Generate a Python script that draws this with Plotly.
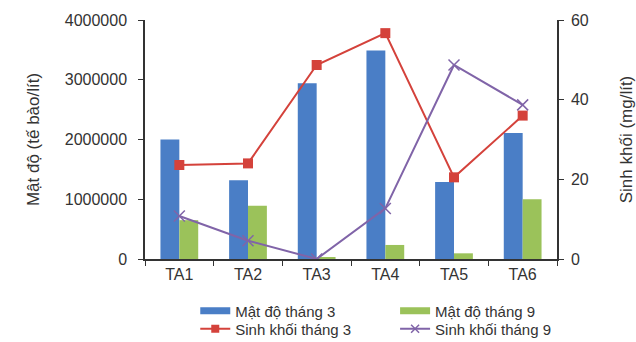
import plotly.graph_objects as go

categories = ["TA1", "TA2", "TA3", "TA4", "TA5", "TA6"]
mat_do_t3 = [2000000, 1320000, 2940000, 3490000, 1290000, 2110000]
mat_do_t9 = [650000, 890000, 30000, 235000, 95000, 1000000]
sinh_khoi_t3 = [23.6, 24.0, 48.7, 56.7, 20.5, 36.0]
sinh_khoi_t9 = [10.8, 4.6, 0.0, 12.7, 48.7, 38.7]

left_ticks = [0, 1000000, 2000000, 3000000, 4000000]
right_ticks = [0, 20, 40, 60]

BLUE = "#4a7ec6"
GREEN = "#9bc25a"
RED = "#d4423b"
PURPLE = "#8064a8"
FONT = "Liberation Sans, Arial, sans-serif"
TXT = "#333333"

fig = go.Figure()
fig.add_trace(go.Bar(x=categories, y=mat_do_t3, name="Mật độ tháng 3", showlegend=False,
                     marker=dict(color=BLUE, line=dict(width=0))))
fig.add_trace(go.Bar(x=categories, y=mat_do_t9, name="Mật độ tháng 9", showlegend=False,
                     marker=dict(color=GREEN, line=dict(width=0))))
fig.add_trace(go.Scatter(x=categories, y=sinh_khoi_t3, name="Sinh khối tháng 3", yaxis="y2",
                         mode="lines+markers", line=dict(color=RED, width=2),
                         marker=dict(symbol="square", size=10, color=RED), showlegend=False))
fig.add_trace(go.Scatter(x=categories, y=sinh_khoi_t9, name="Sinh khối tháng 9", yaxis="y2",
                         mode="lines+markers", line=dict(color=PURPLE, width=2),
                         marker=dict(symbol="x-thin-open", size=11, color=PURPLE,
                                     line=dict(color=PURPLE, width=1.5)), showlegend=False))

# Legend entries (one legend per cell of a 2x2 grid): wide bar swatches, line+marker swatches
fig.add_trace(go.Scatter(x=[None], y=[None], mode="lines", name="Mật độ tháng 3",
                         line=dict(color=BLUE, width=7), legend="legend"))
fig.add_trace(go.Scatter(x=[None], y=[None], mode="lines", name="Mật độ tháng 9",
                         line=dict(color=GREEN, width=7), legend="legend2"))
fig.add_trace(go.Scatter(x=[None], y=[None], mode="lines+markers", name="Sinh khối tháng 3",
                         line=dict(color=RED, width=2), yaxis="y2",
                         marker=dict(symbol="square", size=8, color=RED), legend="legend3"))
fig.add_trace(go.Scatter(x=[None], y=[None], mode="lines+markers", name="Sinh khối tháng 9",
                         line=dict(color=PURPLE, width=2), yaxis="y2",
                         marker=dict(symbol="x-thin-open", size=8, color=PURPLE,
                                     line=dict(color=PURPLE, width=1.5)), legend="legend4"))

def legend_box(x, y):
    return dict(x=x, y=y, xanchor="left", yanchor="middle", orientation="v",
                font=dict(size=15, color=TXT), itemwidth=30, bgcolor="rgba(0,0,0,0)")

COL1, COL2 = 0.122, 0.607
ROW1, ROW2 = -0.218, -0.293

fig.update_layout(
    width=636, height=342,
    margin=dict(l=145, r=79, t=20, b=83, autoexpand=False),
    paper_bgcolor="white", plot_bgcolor="white",
    font=dict(family=FONT, size=16, color=TXT),
    barmode="group", bargap=0.45, bargroupgap=0,
    xaxis=dict(showline=True, linecolor="#333", linewidth=1.5, ticks="outside",
               tickson="boundaries", ticklen=5, tickcolor="#333", showgrid=False,
               tickfont=dict(size=16, color=TXT)),
    yaxis=dict(range=[0, 4000000], tickvals=left_ticks, tickformat="d",
               showline=True, linecolor="#333", linewidth=1.5, ticks="outside",
               ticklen=5, tickcolor="#333", showgrid=False, zeroline=False,
               ticklabelstandoff=8,
               title=dict(text="Mật độ (tế bào/lít)", font=dict(size=17, color=TXT), standoff=21),
               tickfont=dict(size=16, color=TXT)),
    yaxis2=dict(range=[0, 60], tickvals=right_ticks, overlaying="y", side="right",
                showline=True, linecolor="#333", linewidth=1.5, ticks="outside",
                ticklen=5, tickcolor="#333", showgrid=False, zeroline=False,
                ticklabelstandoff=4,
                title=dict(text="Sinh khối (mg/lít)", font=dict(size=17, color=TXT), standoff=32),
                tickfont=dict(size=16, color=TXT)),
    legend=legend_box(COL1, ROW1),
    legend2=legend_box(COL2, ROW1),
    legend3=legend_box(COL1, ROW2),
    legend4=legend_box(COL2, ROW2),
    showlegend=True,
)

fig.write_html("out.html")
